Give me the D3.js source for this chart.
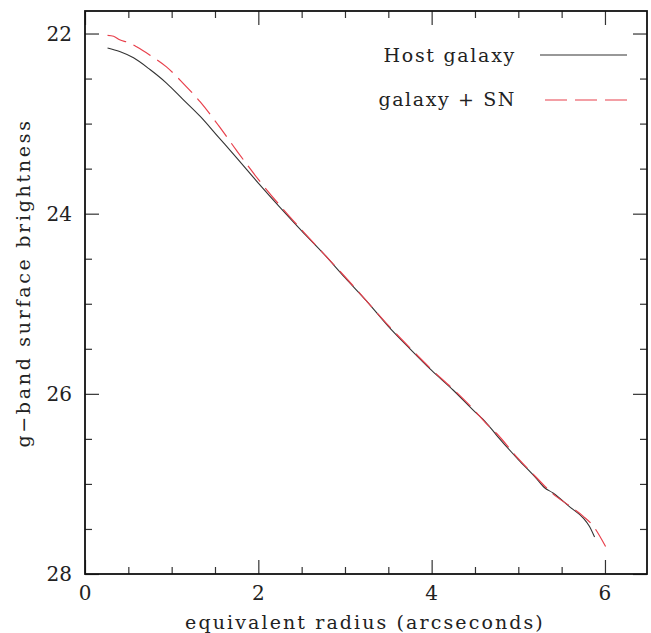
<!DOCTYPE html>
<html>
<head>
<meta charset="utf-8">
<script src="https://cdn.jsdelivr.net/npm/d3@7"></script>
<style>
  html, body { margin: 0; padding: 0; background: #fff; }
  svg { display: block; }
  text { font-family: "DejaVu Serif", serif; fill: #222; }
</style>
</head>
<body>
<svg id="chart" width="651" height="633"></svg>
<script>
// ---- data ----
const hostRadius = [0.26, 0.40, 0.56, 0.75, 0.94, 1.13, 1.33, 1.54, 1.75, 2.00, 2.25, 2.50, 2.75, 3.00, 3.25, 3.50, 3.75, 4.00, 4.25, 4.50, 4.62, 4.75, 5.00, 5.20, 5.30, 5.40, 5.60, 5.75, 5.82, 5.88];
const hostMag    = [22.16, 22.20, 22.27, 22.40, 22.55, 22.73, 22.92, 23.15, 23.38, 23.66, 23.93, 24.19, 24.44, 24.71, 24.97, 25.25, 25.50, 25.74, 25.96, 26.20, 26.31, 26.46, 26.73, 26.93, 27.04, 27.10, 27.26, 27.38, 27.47, 27.59];

const snRadius = [0.26, 0.33, 0.40, 0.50, 0.60, 0.75, 0.94, 1.13, 1.33, 1.54, 1.75, 2.00, 2.25, 2.50, 2.75, 3.00, 3.25, 3.50, 3.75, 4.00, 4.25, 4.50, 4.62, 4.75, 5.00, 5.20, 5.30, 5.40, 5.60, 5.75, 5.85, 6.01];
const snMag    = [22.02, 22.03, 22.07, 22.10, 22.15, 22.24, 22.37, 22.55, 22.76, 23.02, 23.30, 23.62, 23.91, 24.18, 24.44, 24.70, 24.97, 25.24, 25.49, 25.73, 25.95, 26.19, 26.32, 26.44, 26.72, 26.92, 27.02, 27.11, 27.25, 27.36, 27.45, 27.70];

const xMajorTicks = [0, 2, 4, 6];
const yMajorTicks = [22, 24, 26, 28];
const seriesNames = ["Host galaxy", "galaxy + SN"];
const xTitle = "equivalent radius (arcseconds)";
const yTitle = "g\u2212band surface brightness";

// ---- layout ----
const L = 85, R = 647, T = 11, B = 574;
const svg = d3.select("#chart");
const x = d3.scaleLinear().domain([0, 6.485]).range([L, R]);
const y = d3.scaleLinear().domain([21.75, 28]).range([T, B]);

const xMinor = d3.range(0, 6.5, 0.5).filter(v => !xMajorTicks.includes(v));
const yMinor = d3.range(22, 28.01, 0.5).filter(v => !yMajorTicks.includes(v));

const tickColor = "#333";
const MAJ = 14, MIN = 7;

function addAxis(gen, transform) {
  const g = svg.append("g").attr("transform", transform).call(gen);
  g.select(".domain").remove();
  g.selectAll("line").attr("stroke", tickColor).attr("stroke-width", 1.2);
  return g;
}
// bottom
addAxis(d3.axisTop(x).tickValues(xMajorTicks).tickSize(MAJ).tickFormat(""), `translate(0,${B})`);
addAxis(d3.axisTop(x).tickValues(xMinor).tickSize(MIN).tickFormat(""), `translate(0,${B})`);
// top
addAxis(d3.axisBottom(x).tickValues(xMajorTicks).tickSize(MAJ).tickFormat(""), `translate(0,${T})`);
addAxis(d3.axisBottom(x).tickValues(xMinor).tickSize(MIN).tickFormat(""), `translate(0,${T})`);
// left
addAxis(d3.axisRight(y).tickValues(yMajorTicks).tickSize(MAJ).tickFormat(""), `translate(${L},0)`);
addAxis(d3.axisRight(y).tickValues(yMinor).tickSize(MIN).tickFormat(""), `translate(${L},0)`);
// right
addAxis(d3.axisLeft(y).tickValues(yMajorTicks).tickSize(MAJ).tickFormat(""), `translate(${R},0)`);
addAxis(d3.axisLeft(y).tickValues(yMinor).tickSize(MIN).tickFormat(""), `translate(${R},0)`);

// tick labels
svg.append("g").selectAll("text").data(xMajorTicks).join("text")
  .attr("x", d => x(d)).attr("y", 600)
  .attr("text-anchor", "middle").attr("font-size", 20)
  .text(d => d);
svg.append("g").selectAll("text").data(yMajorTicks).join("text")
  .attr("x", 72).attr("y", d => y(d) + 7)
  .attr("text-anchor", "end").attr("font-size", 20)
  .text(d => d);

// frame
svg.append("rect").attr("x", L).attr("y", T).attr("width", R - L).attr("height", B - T)
  .attr("fill", "none").attr("stroke", "#111").attr("stroke-width", 1.8);

// lines
const line = d3.line().x(d => x(d[0])).y(d => y(d[1])).curve(d3.curveMonotoneX);
const hostData = hostRadius.map((r, i) => [r, hostMag[i]]);
const snData = snRadius.map((r, i) => [r, snMag[i]]);

svg.append("path").datum(hostData).attr("d", line)
  .attr("fill", "none").attr("stroke", "#333").attr("stroke-width", 1.1);
svg.append("path").datum(snData).attr("d", line)
  .attr("fill", "none").attr("stroke", "#e8404c").attr("stroke-width", 1.2)
  .attr("stroke-dasharray", "20,8");

// legend
const leg = svg.append("g");
leg.append("text").attr("x", 516).attr("y", 62).attr("text-anchor", "end")
  .attr("font-size", 19).attr("letter-spacing", 1.7).text(seriesNames[0]);
leg.append("line").attr("x1", 540).attr("x2", 627).attr("y1", 55).attr("y2", 55)
  .attr("stroke", "#333").attr("stroke-width", 1.1);
leg.append("text").attr("x", 516).attr("y", 106).attr("text-anchor", "end")
  .attr("font-size", 19).attr("letter-spacing", 1.6).text(seriesNames[1]);
leg.append("line").attr("x1", 545).attr("x2", 627).attr("y1", 100).attr("y2", 100)
  .attr("stroke", "#e8404c").attr("stroke-width", 1.2).attr("stroke-dasharray", "22,8");

// axis titles
svg.append("text").attr("x", (L + R) / 2 - 1).attr("y", 629).attr("text-anchor", "middle")
  .attr("font-size", 19).attr("letter-spacing", 2.1).text(xTitle);
svg.append("text").attr("transform", `translate(30,283) rotate(-90)`).attr("text-anchor", "middle")
  .attr("font-size", 19).attr("letter-spacing", 2.7).text(yTitle);
</script>
</body>
</html>
